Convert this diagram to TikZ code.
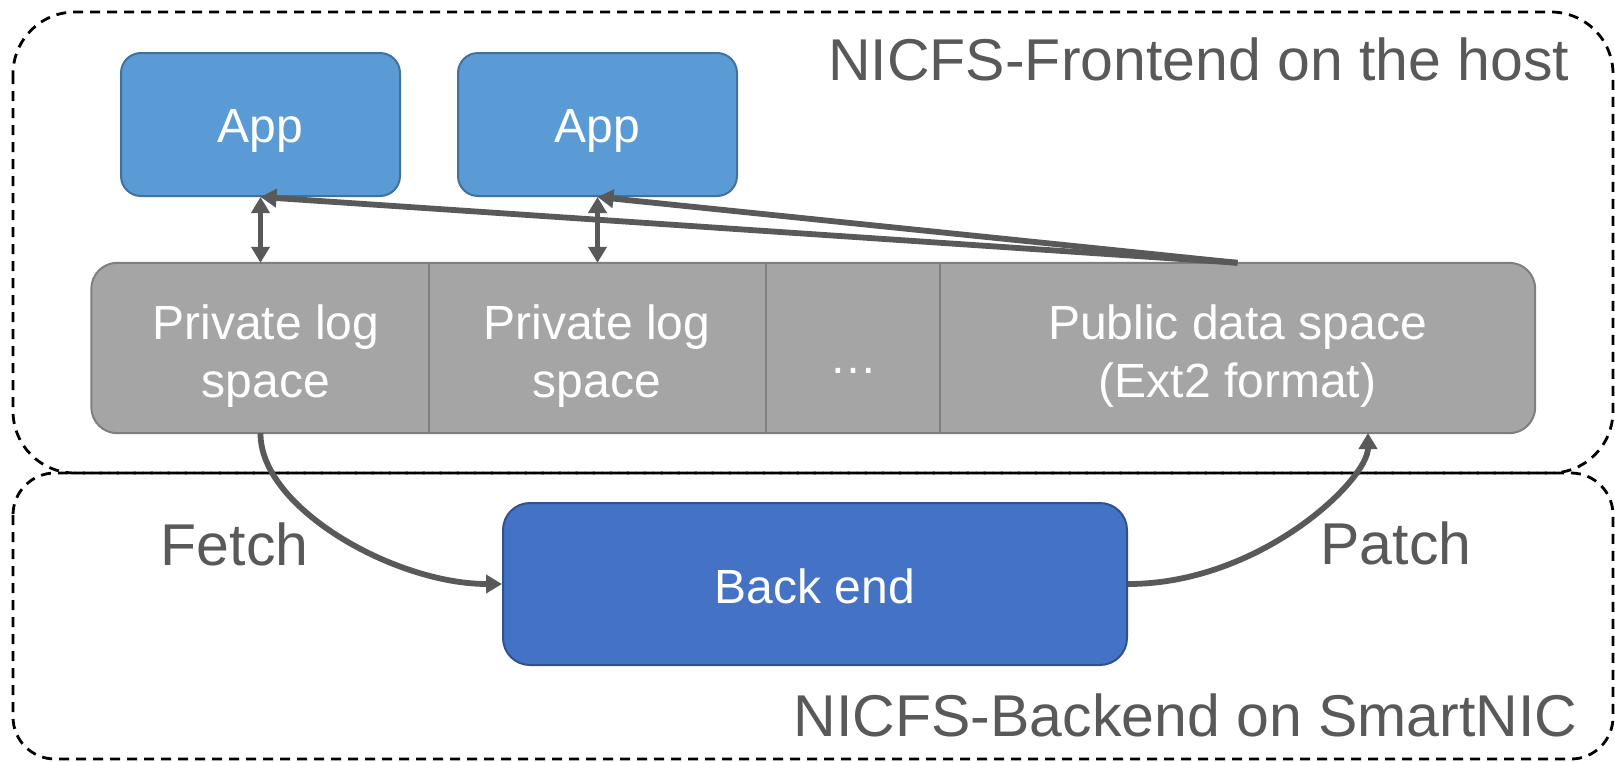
\documentclass[tikz,border=0pt]{standalone}
\usepackage{fontspec}
\setmainfont{Liberation Sans}
\usetikzlibrary{arrows.meta,backgrounds}
\definecolor{appfill}{HTML}{5B9BD5}
\definecolor{appline}{HTML}{41719C}
\definecolor{befill}{HTML}{4472C4}
\definecolor{beline}{HTML}{2F528F}
\definecolor{barfill}{HTML}{A5A5A5}
\definecolor{barline}{HTML}{7F7F7F}
\definecolor{txtgray}{HTML}{595959}
\newcommand{\lowerby}[1]{\rule{0pt}{\dimexpr 35pt+#1\relax}}
\tikzset{
  boxfont/.style={font=\fontsize{48}{58}\selectfont, text=white, align=center},
  labelfont/.style={font=\fontsize{59}{66}\selectfont, text=txtgray},
  appbox/.style={boxfont, draw=appline, fill=appfill, line width=2pt, rounded corners=20pt,
    minimum width=279pt, minimum height=143pt, inner sep=0pt},
  bebox/.style={boxfont, draw=beline, fill=befill, line width=2pt, rounded corners=27pt,
    minimum width=624pt, minimum height=162pt, inner sep=0pt},
  cell/.style={boxfont, minimum height=170pt, inner sep=0pt},
  region/.style={draw=black, line width=2.8pt, dash pattern=on 10pt off 7pt},
  conn/.style={draw=txtgray, line width=5.8pt, -{Triangle[width=18pt,length=16pt]}},
  dconn/.style={draw=txtgray, line width=5.8pt, {Triangle[width=18pt,length=16pt]}-{Triangle[width=18pt,length=16pt]}},
}
\begin{document}
\begin{tikzpicture}[x=1pt,y=-1pt]
\useasboundingbox (0,0) rectangle (1615,761);
% region boxes
\draw[region, rounded corners=62pt] (13,12) rectangle (1613,473);
\draw[region, rounded corners=42pt] (13,473) rectangle (1613,759);
\node[labelfont, anchor=base east] (fe) at (1573,80) {NICFS-Frontend on the host};
\node[labelfont, anchor=base east] (bk) at (1581,736) {NICFS-Backend on SmartNIC};
% apps
\node[appbox] (app1) at (260.5,124.5) {\lowerby{10pt}App};
\node[appbox] (app2) at (597.5,124.5) {\lowerby{10pt}App};
% bar cells
\node[cell, minimum width=325pt] (pl1) at (266,348) {\lowerby{16pt}Private log\\space};
\node[cell, minimum width=338pt] (pl2) at (597,348) {\lowerby{16pt}Private log\\space};
\node[cell, minimum width=174pt] (dots) at (853,348) {\lowerby{16pt}…};
\node[cell, minimum width=595pt] (pub) at (1237.5,348) {\lowerby{16pt}Public data space\\(Ext2 format)};
\begin{scope}[on background layer]
\draw[draw=barline, fill=barfill, line width=2pt, rounded corners=26pt]
  ([xshift=-12pt]pl1.north west) rectangle (pub.south east);
\end{scope}
\draw[barline, line width=2pt] (pl1.north east) -- (pl1.south east);
\draw[barline, line width=2pt] (pl2.north east) -- (pl2.south east);
\draw[barline, line width=2pt] (dots.north east) -- (dots.south east);
% back end
\node[bebox] (be) at (815,584) {\lowerby{4pt}Back end};
% labels
\node[labelfont, anchor=base east] (fetch) at (312,565) {Fetch};
\node[labelfont, anchor=base east] (patch) at (1475,564) {Patch};
% connectors
\draw[dconn] (app1.south) -- (app1.south |- pl1.north);
\draw[dconn] (app2.south) -- (app2.south |- pl2.north);
\draw[conn] (pub.north) -- (app1.south);
\draw[conn] (pub.north) -- (app2.south);
\coordinate (patchend) at (1368,433);
\draw[conn] (app1.south |- pl1.south) .. controls (260,508) and (395,584) .. (be.west);
\draw[conn] (be.east) .. controls (1260,584) and (1368,480) .. (patchend);
\end{tikzpicture}
\end{document}
